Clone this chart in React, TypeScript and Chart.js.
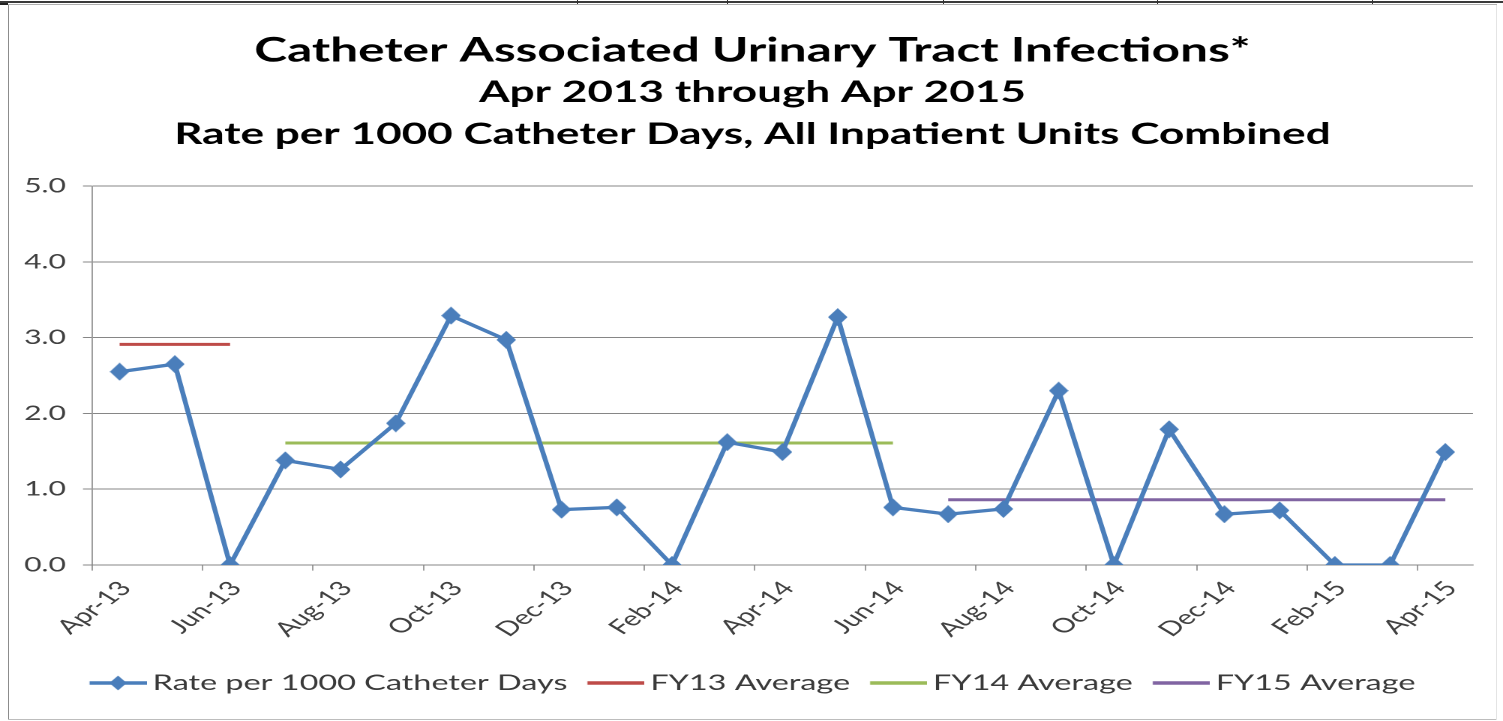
import { useEffect, useRef } from 'react';
import { Chart, registerables } from 'chart.js';

Chart.register(...registerables);

// ---- data ----
const months = [
  'Apr-13', 'May-13', 'Jun-13', 'Jul-13', 'Aug-13', 'Sep-13', 'Oct-13', 'Nov-13', 'Dec-13',
  'Jan-14', 'Feb-14', 'Mar-14', 'Apr-14', 'May-14', 'Jun-14', 'Jul-14', 'Aug-14', 'Sep-14',
  'Oct-14', 'Nov-14', 'Dec-14', 'Jan-15', 'Feb-15', 'Mar-15', 'Apr-15',
];
const rates = [
  2.55, 2.65, 0, 1.38, 1.26, 1.87, 3.29, 2.97, 0.73,
  0.76, 0, 1.62, 1.49, 3.27, 0.76, 0.67, 0.74, 2.3,
  0, 1.79, 0.67, 0.72, 0, 0, 1.49,
];
const rateLabel = 'Rate per 1000 Catheter Days';
const fyNames = ['FY13 Average', 'FY14 Average', 'FY15 Average'];
const fyAverages = [2.91, 1.61, 0.86];
const fyStart = ['Apr-13', 'Jul-13', 'Jul-14'];
const fyEnd = ['Jun-13', 'Jun-14', 'Apr-15'];
const yMin = 0;
const yMax = 5;
const yStep = 1;
const titleLine = 'Catheter Associated Urinary Tract Infections*';
const subtitleLines = ['Apr 2013 through Apr 2015', 'Rate per 1000 Catheter Days, All Inpatient Units Combined'];

// ---- style ----
const rateColor = '#4A7EBB';
const fyColors = ['#BE4B48', '#9BBB59', '#8064A2'];
const gridColor = '#868686';
const textColor = '#404040';
const FONT = 'Lato';
const S = 1.5; // horizontal stretch of the whole chart
const CW = 1487 / S;
const CH = 712;
const PLOT_RIGHT = 976;

// build a crisp image (2x resolution) that Chart.js draws at w x h chart units
function makeImage(w: number, h: number, paint: (g: CanvasRenderingContext2D) => void): Promise<HTMLImageElement> {
  const c = document.createElement('canvas');
  c.width = w * 2;
  c.height = h * 2;
  const g = c.getContext('2d')!;
  g.scale(2, 2);
  paint(g);
  const img = new Image();
  img.src = c.toDataURL();
  img.width = w;
  img.height = h;
  return img.decode().then(() => img, () => img);
}

function diamond(g: CanvasRenderingContext2D, cx: number, cy: number, hw: number, hh: number, color: string) {
  g.fillStyle = color;
  g.beginPath();
  g.moveTo(cx - hw, cy);
  g.lineTo(cx, cy - hh);
  g.lineTo(cx + hw, cy);
  g.lineTo(cx, cy + hh);
  g.closePath();
  g.fill();
}

function legendSwatch(color: string, withDiamond: boolean) {
  return makeImage(45, 20, (g) => {
    g.strokeStyle = color;
    g.lineWidth = 3.4;
    g.beginPath();
    g.moveTo(6.9, 10);
    g.lineTo(45, 10);
    g.stroke();
    if (withDiamond) diamond(g, 25.9, 10, 5.8, 7.4, color);
  });
}

export default function App() {
  const ref = useRef<HTMLCanvasElement>(null);

  useEffect(() => {
    let chart: Chart | null = null;
    let cancelled = false;
    (async () => {
      const pointImg = await makeImage(13, 18, (g) => diamond(g, 6.5, 9, 6.5, 9, rateColor));
      const swatches = await Promise.all([legendSwatch(rateColor, true), ...fyColors.map((c) => legendSwatch(c, false))]);
      if (cancelled || !ref.current) return;

      const fyDatasets = fyNames.map((name, k) => {
        const a = months.indexOf(fyStart[k]);
        const b = months.indexOf(fyEnd[k]);
        return {
          label: name,
          data: months.map((_, i) => (i >= a && i <= b ? fyAverages[k] : null)),
          borderColor: fyColors[k],
          backgroundColor: fyColors[k],
          borderWidth: 3,
          pointRadius: 0,
          pointHoverRadius: 0,
          spanGaps: false,
        };
      });

      chart = new Chart(ref.current, {
        type: 'line',
        data: {
          labels: months,
          datasets: [
            {
              label: rateLabel,
              data: rates,
              borderColor: rateColor,
              backgroundColor: rateColor,
              borderWidth: 3.3,
              pointStyle: pointImg,
              pointRadius: 8,
              pointHoverRadius: 8,
              tension: 0,
            },
            ...fyDatasets,
          ],
        },
        options: {
          animation: false,
          responsive: true,
          maintainAspectRatio: false,
          devicePixelRatio: 2,
          layout: { padding: { left: 0, right: 0, top: 0, bottom: 14.2 } },
          plugins: {
            tooltip: { enabled: false },
            title: {
              display: true,
              text: titleLine,
              color: '#000',
              font: { family: FONT, size: 33, weight: 'bold', lineHeight: 1.2 },
              padding: { top: 25.2, bottom: 0.7 },
            },
            subtitle: {
              display: true,
              text: subtitleLines,
              color: '#000',
              font: { family: FONT, size: 29.4, weight: 'bold', lineHeight: 42 / 29.4 },
              padding: { top: 0, bottom: 30.5 },
            },
            legend: {
              position: 'bottom',
              labels: {
                usePointStyle: true,
                pointStyleWidth: 31.2,
                boxHeight: 20,
                padding: 13.3,
                color: '#3a3a3a',
                font: { family: FONT, size: 21.6 },
                generateLabels: (ch: any) =>
                  ch.data.datasets.map((ds: any, i: number) => ({
                    text: ds.label,
                    pointStyle: swatches[i],
                    fillStyle: ds.borderColor,
                    strokeStyle: ds.borderColor,
                    lineWidth: 0,
                    hidden: false,
                    datasetIndex: i,
                    fontColor: '#3a3a3a',
                  })),
              },
            },
          },
          scales: {
            x: {
              type: 'category',
              offset: true,
              afterFit: (scale: any) => {
                scale.height = 93.9;
                scale.paddingRight = CW - PLOT_RIGHT;
              },
              grid: {
                display: true,
                drawOnChartArea: false,
                drawTicks: true,
                tickLength: 5.6,
                offset: true,
                lineWidth: 0.8,
                color: (ctx: any) =>
                  typeof ctx.index === 'number' && ctx.index % 2 === 0 ? gridColor : 'rgba(0,0,0,0)',
              },
              border: { display: true, color: gridColor, width: 1 },
              ticks: {
                autoSkip: false,
                maxRotation: 48,
                minRotation: 48,
                padding: 6,
                labelOffset: 4,
                color: textColor,
                font: { family: FONT, size: 20 },
                callback: (_v: any, i: number) => (i % 2 === 0 ? months[i] : ''),
              },
            },
            y: {
              min: yMin,
              max: yMax,
              afterFit: (scale: any) => {
                scale.width = 55.33;
              },
              grid: { color: gridColor, lineWidth: 1, tickLength: 6 },
              border: { display: true, color: gridColor, width: 0.8 },
              ticks: {
                stepSize: yStep,
                padding: 11.33,
                color: textColor,
                font: { family: FONT, size: 20 },
                callback: (v: any) => Number(v).toFixed(1),
              },
            },
          },
        },
      } as any);
    })();
    return () => {
      cancelled = true;
      if (chart) chart.destroy();
    };
  }, []);

  const seps = [577, 727, 943, 1157, 1372];
  return (
    <div style={{ position: 'absolute', left: 0, top: 0, width: 1503, height: 721, background: '#fff', overflow: 'hidden' }}>
      <div style={{ position: 'absolute', left: 0, top: 1, width: 1503, height: 2, background: '#3a3a3a' }} />
      <div style={{ position: 'absolute', left: 8, top: 4, width: 1489, height: 1, background: '#b0b0b0' }} />
      <div style={{ position: 'absolute', left: 0, top: 3, width: 8, height: 2, background: '#222' }} />
      {seps.map((x) => (
        <div key={x} style={{ position: 'absolute', left: x, top: 0, width: 1, height: 4, background: '#333' }} />
      ))}
      <div style={{ position: 'absolute', left: 8, top: 5, width: 1, height: 715, background: '#8c8c8c' }} />
      <div style={{ position: 'absolute', left: 8, top: 719, width: 1489, height: 1, background: '#bdbdbd' }} />
      <div style={{ position: 'absolute', left: 1496, top: 5, width: 1, height: 715, background: '#e4e4e4' }} />
      <div
        style={{
          position: 'absolute',
          left: 9,
          top: 6,
          width: CW,
          height: CH,
          transform: `scaleX(${S})`,
          transformOrigin: '0 0',
        }}
      >
        <canvas ref={ref} />
      </div>
    </div>
  );
}
